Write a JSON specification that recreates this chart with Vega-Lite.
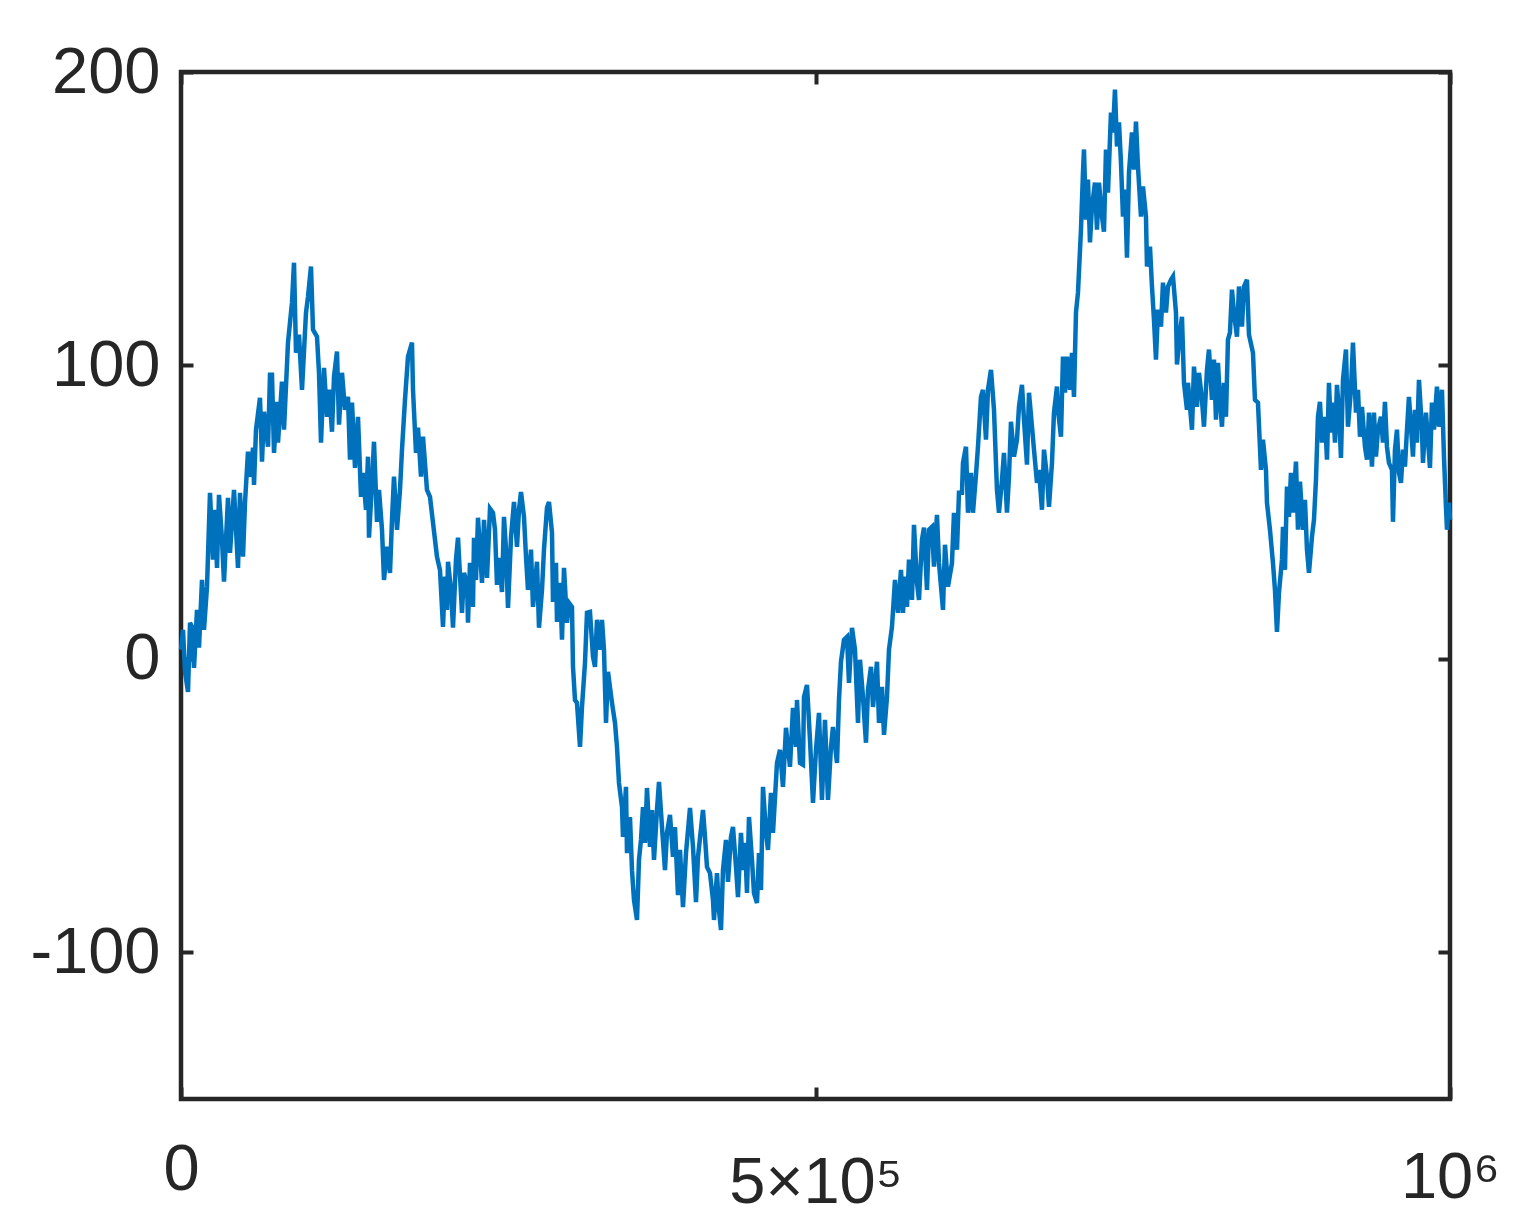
{
  "$schema": "https://vega.github.io/schema/vega-lite/v6.json",
  "width": 1269,
  "height": 1027,
  "autosize": "none",
  "padding": {"left": 181, "top": 72, "right": 76, "bottom": 116},
  "background": "white",
  "config": {
    "view": {"stroke": "#262626", "strokeWidth": 4.5},
    "axis": {"grid": false, "domain": false, "tickColor": "#262626", "tickWidth": 4, "tickSize": -12, "labelFont": "Liberation Sans", "labelFontSize": 65, "labelColor": "#262626", "labelFlush": false, "labelOverlap": false}
  },
  "data": {"values": [
{"x":0,"y":3.1},{"x":1576,"y":9.9},{"x":3152,"y":-4.4},{"x":5516,"y":-11.3},{"x":7092,"y":12.3},{"x":8668,"y":10.9},{"x":10244,"y":-3.1},{"x":12608,"y":16.7},{"x":14184,"y":3.8},{"x":16548,"y":26.9},{"x":18124,"y":9.9},{"x":20488,"y":24.6},{"x":22852,"y":56.6},{"x":25216,"y":33.8},{"x":26792,"y":50.8},{"x":28368,"y":31.0},{"x":29944,"y":55.9},{"x":32308,"y":40.6},{"x":33884,"y":26.3},{"x":37036,"y":54.9},{"x":38612,"y":36.1},{"x":41764,"y":57.6},{"x":44916,"y":31.0},{"x":46492,"y":56.6},{"x":48856,"y":34.8},{"x":50432,"y":53.2},{"x":52796,"y":70.6},{"x":55160,"y":62.1},{"x":56736,"y":72.0},{"x":57524,"y":59.3},{"x":59100,"y":78.1},{"x":62252,"y":89.0},{"x":63828,"y":67.2},{"x":65404,"y":84.2},{"x":68556,"y":72.3},{"x":70132,"y":96.8},{"x":71708,"y":96.8},{"x":73284,"y":70.2},{"x":75648,"y":87.6},{"x":76436,"y":73.7},{"x":79588,"y":94.5},{"x":81164,"y":78.1},{"x":84316,"y":107.8},{"x":85892,"y":114.6},{"x":87468,"y":121.4},{"x":89044,"y":135.0},{"x":90620,"y":104.3},{"x":92984,"y":110.5},{"x":95348,"y":91.7},{"x":98500,"y":118.0},{"x":100076,"y":123.4},{"x":102440,"y":133.7},{"x":104016,"y":112.2},{"x":107168,"y":109.8},{"x":108744,"y":97.5},{"x":110320,"y":73.7},{"x":112684,"y":99.2},{"x":115048,"y":82.5},{"x":116624,"y":91.7},{"x":118988,"y":77.4},{"x":120564,"y":96.2},{"x":122928,"y":104.7},{"x":124504,"y":79.8},{"x":126868,"y":97.5},{"x":129232,"y":84.9},{"x":131596,"y":89.3},{"x":133172,"y":67.9},{"x":134748,"y":87.3},{"x":137112,"y":65.1},{"x":139476,"y":82.5},{"x":141840,"y":55.2},{"x":143416,"y":63.4},{"x":145780,"y":50.8},{"x":147356,"y":68.9},{"x":148144,"y":41.3},{"x":150508,"y":60.0},{"x":152084,"y":74.0},{"x":154448,"y":46.7},{"x":156024,"y":57.6},{"x":158388,"y":44.0},{"x":159964,"y":26.9},{"x":162328,"y":38.2},{"x":164692,"y":29.3},{"x":166268,"y":47.4},{"x":167844,"y":62.1},{"x":170208,"y":44.0},{"x":172572,"y":57.6},{"x":174148,"y":71.3},{"x":176512,"y":88.3},{"x":178876,"y":103.0},{"x":182028,"y":107.8},{"x":182816,"y":91.7},{"x":185180,"y":70.2},{"x":186756,"y":78.8},{"x":189120,"y":62.1},{"x":190696,"y":75.7},{"x":193848,"y":57.6},{"x":196212,"y":55.2},{"x":198576,"y":46.4},{"x":201728,"y":34.8},{"x":204092,"y":30.3},{"x":206456,"y":10.9},{"x":208032,"y":28.0},{"x":209608,"y":16.7},{"x":210396,"y":33.1},{"x":212760,"y":23.5},{"x":214336,"y":10.6},{"x":216700,"y":33.8},{"x":218276,"y":41.3},{"x":221428,"y":15.7},{"x":223004,"y":29.3},{"x":225368,"y":25.9},{"x":226156,"y":12.3},{"x":227732,"y":32.7},{"x":230096,"y":17.7},{"x":230884,"y":41.3},{"x":232460,"y":26.9},{"x":234036,"y":48.1},{"x":237188,"y":25.9},{"x":238764,"y":47.4},{"x":241128,"y":27.6},{"x":243492,"y":51.2},{"x":245856,"y":49.8},{"x":247432,"y":44.0},{"x":249008,"y":25.2},{"x":250584,"y":34.4},{"x":252948,"y":22.8},{"x":254524,"y":48.4},{"x":256100,"y":37.2},{"x":257676,"y":17.4},{"x":260040,"y":41.3},{"x":262404,"y":53.5},{"x":264768,"y":38.2},{"x":266344,"y":50.8},{"x":267920,"y":56.9},{"x":270284,"y":48.4},{"x":271860,"y":34.8},{"x":273436,"y":23.5},{"x":275800,"y":37.2},{"x":277376,"y":17.7},{"x":280528,"y":33.1},{"x":282104,"y":10.6},{"x":284468,"y":23.5},{"x":286044,"y":37.2},{"x":288408,"y":51.5},{"x":289984,"y":53.5},{"x":292348,"y":43.0},{"x":293136,"y":19.4},{"x":295500,"y":32.7},{"x":296288,"y":12.6},{"x":298652,"y":25.9},{"x":300228,"y":6.5},{"x":301804,"y":31.0},{"x":304168,"y":12.3},{"x":305744,"y":19.1},{"x":308108,"y":17.7},{"x":308896,"y":-2.7},{"x":310472,"y":-14.0},{"x":312048,"y":-15.0},{"x":314412,"y":-30.0},{"x":315988,"y":-16.4},{"x":318352,"y":-1.4},{"x":319928,"y":15.7},{"x":322292,"y":16.0},{"x":324656,"y":0.7},{"x":326232,"y":-2.7},{"x":327808,"y":13.3},{"x":330172,"y":3.1},{"x":331748,"y":13.3},{"x":333324,"y":3.1},{"x":334900,"y":-21.8},{"x":336476,"y":-4.4},{"x":339628,"y":-15.0},{"x":341992,"y":-21.8},{"x":343568,"y":-30.0},{"x":345144,"y":-42.3},{"x":347508,"y":-50.5},{"x":348296,"y":-60.7},{"x":350660,"y":-43.6},{"x":351448,"y":-66.2},{"x":353812,"y":-53.9},{"x":355388,"y":-72.0},{"x":356964,"y":-82.2},{"x":359328,"y":-89.0},{"x":360904,"y":-68.5},{"x":362480,"y":-61.7},{"x":364056,"y":-50.5},{"x":365632,"y":-62.7},{"x":367208,"y":-44.0},{"x":369572,"y":-64.1},{"x":371148,"y":-51.5},{"x":372724,"y":-68.5},{"x":375088,"y":-51.5},{"x":376664,"y":-41.9},{"x":379028,"y":-57.3},{"x":381392,"y":-72.0},{"x":382968,"y":-59.3},{"x":385332,"y":-53.2},{"x":387696,"y":-67.5},{"x":389272,"y":-57.3},{"x":391636,"y":-80.5},{"x":393212,"y":-65.1},{"x":395576,"y":-84.6},{"x":397940,"y":-66.2},{"x":401092,"y":-50.8},{"x":403456,"y":-64.1},{"x":405820,"y":-82.9},{"x":407396,"y":-67.5},{"x":411336,"y":-51.5},{"x":412912,"y":-60.7},{"x":414488,"y":-70.9},{"x":416852,"y":-73.0},{"x":419216,"y":-82.2},{"x":420004,"y":-89.0},{"x":422368,"y":-73.0},{"x":423944,"y":-85.6},{"x":425520,"y":-92.4},{"x":427096,"y":-72.0},{"x":429460,"y":-61.7},{"x":431036,"y":-76.0},{"x":433400,"y":-60.7},{"x":434976,"y":-57.3},{"x":437340,"y":-70.9},{"x":438916,"y":-81.2},{"x":441280,"y":-59.3},{"x":442856,"y":-72.0},{"x":444432,"y":-62.7},{"x":446008,"y":-79.8},{"x":447584,"y":-53.9},{"x":449948,"y":-68.5},{"x":451524,"y":-79.8},{"x":453888,"y":-83.2},{"x":455464,"y":-66.2},{"x":457040,"y":-78.8},{"x":458616,"y":-43.6},{"x":460980,"y":-59.3},{"x":462556,"y":-65.1},{"x":464920,"y":-45.7},{"x":466496,"y":-59.3},{"x":469648,"y":-35.5},{"x":472012,"y":-31.0},{"x":474376,"y":-43.6},{"x":476740,"y":-23.5},{"x":479892,"y":-36.8},{"x":482256,"y":-16.7},{"x":484620,"y":-30.0},{"x":485408,"y":-14.0},{"x":487772,"y":-35.5},{"x":490136,"y":-36.1},{"x":490924,"y":-13.0},{"x":493288,"y":-8.9},{"x":495652,"y":-27.6},{"x":498016,"y":-49.1},{"x":500380,"y":-31.0},{"x":502744,"y":-18.4},{"x":505108,"y":-48.1},{"x":507472,"y":-20.8},{"x":509836,"y":-48.1},{"x":512200,"y":-30.0},{"x":513776,"y":-23.2},{"x":516928,"y":-35.5},{"x":518504,"y":-14.0},{"x":520080,"y":-1.0},{"x":522444,"y":6.5},{"x":524808,"y":7.5},{"x":526384,"y":-8.2},{"x":528748,"y":10.6},{"x":531112,"y":3.1},{"x":533476,"y":-21.8},{"x":535052,"y":-0.3},{"x":537416,"y":-13.0},{"x":539780,"y":-28.6},{"x":541356,"y":-10.6},{"x":543720,"y":-2.7},{"x":545296,"y":-16.4},{"x":548448,"y":-1.0},{"x":550024,"y":-21.8},{"x":552388,"y":-9.5},{"x":553964,"y":-25.9},{"x":556328,"y":-13.0},{"x":557904,"y":3.1},{"x":560268,"y":10.9},{"x":562632,"y":26.9},{"x":564996,"y":15.7},{"x":567360,"y":30.3},{"x":568936,"y":15.7},{"x":570512,"y":28.0},{"x":572088,"y":17.7},{"x":573664,"y":33.8},{"x":576028,"y":20.1},{"x":577604,"y":45.7},{"x":579968,"y":25.9},{"x":581544,"y":20.1},{"x":583908,"y":40.6},{"x":585484,"y":44.7},{"x":587848,"y":23.5},{"x":589424,"y":44.0},{"x":591788,"y":45.0},{"x":593364,"y":31.4},{"x":595728,"y":49.1},{"x":597304,"y":32.7},{"x":600456,"y":16.7},{"x":602032,"y":38.9},{"x":604396,"y":24.6},{"x":607548,"y":32.7},{"x":609124,"y":49.8},{"x":611488,"y":37.2},{"x":613064,"y":56.6},{"x":615428,"y":56.6},{"x":616216,"y":66.8},{"x":618580,"y":72.3},{"x":620156,"y":49.8},{"x":622520,"y":63.4},{"x":624096,"y":49.8},{"x":626460,"y":62.7},{"x":628036,"y":72.3},{"x":630400,"y":89.3},{"x":631976,"y":91.7},{"x":634340,"y":74.7},{"x":635916,"y":91.7},{"x":638280,"y":98.5},{"x":640644,"y":84.9},{"x":643008,"y":57.6},{"x":644584,"y":49.8},{"x":646948,"y":61.0},{"x":648524,"y":70.2},{"x":650888,"y":49.8},{"x":652464,"y":62.1},{"x":654040,"y":80.8},{"x":656404,"y":68.9},{"x":658768,"y":74.7},{"x":660344,"y":85.9},{"x":662708,"y":93.4},{"x":664284,"y":81.5},{"x":666648,"y":66.2},{"x":668224,"y":90.7},{"x":670588,"y":79.1},{"x":672164,"y":71.3},{"x":674528,"y":60.0},{"x":676104,"y":64.4},{"x":678468,"y":50.8},{"x":680044,"y":71.3},{"x":682408,"y":62.1},{"x":683984,"y":51.8},{"x":686348,"y":66.8},{"x":687924,"y":83.9},{"x":690288,"y":92.8},{"x":691076,"y":84.9},{"x":693440,"y":75.7},{"x":695016,"y":103.0},{"x":696592,"y":90.7},{"x":698168,"y":103.0},{"x":700532,"y":91.7},{"x":702108,"y":104.3},{"x":703684,"y":89.3},{"x":705260,"y":118.0},{"x":706836,"y":124.8},{"x":709200,"y":146.3},{"x":710776,"y":165.7},{"x":711564,"y":173.6},{"x":713140,"y":149.7},{"x":714716,"y":163.3},{"x":716292,"y":141.9},{"x":717868,"y":154.1},{"x":720232,"y":162.3},{"x":721808,"y":146.3},{"x":723384,"y":162.3},{"x":725748,"y":150.7},{"x":727324,"y":145.6},{"x":728900,"y":173.6},{"x":730476,"y":158.9},{"x":732840,"y":186.2},{"x":734416,"y":179.4},{"x":735992,"y":194.0},{"x":737568,"y":174.6},{"x":739144,"y":182.8},{"x":740720,"y":169.1},{"x":742296,"y":150.7},{"x":743872,"y":159.9},{"x":745448,"y":136.7},{"x":747024,"y":165.7},{"x":749388,"y":179.4},{"x":750964,"y":166.7},{"x":752540,"y":183.1},{"x":754116,"y":167.8},{"x":756480,"y":150.7},{"x":758056,"y":161.0},{"x":760420,"y":150.7},{"x":761208,"y":133.7},{"x":763572,"y":140.5},{"x":765148,"y":126.9},{"x":766724,"y":115.6},{"x":768300,"y":102.0},{"x":769876,"y":119.0},{"x":772240,"y":113.2},{"x":773816,"y":128.2},{"x":776180,"y":118.0},{"x":777756,"y":126.9},{"x":780120,"y":129.2},{"x":781696,"y":130.3},{"x":784060,"y":118.0},{"x":784848,"y":100.3},{"x":787212,"y":111.2},{"x":788788,"y":116.6},{"x":790364,"y":94.1},{"x":792728,"y":84.9},{"x":793516,"y":94.1},{"x":796668,"y":78.1},{"x":798244,"y":99.6},{"x":800608,"y":85.9},{"x":802184,"y":97.5},{"x":804548,"y":88.3},{"x":806124,"y":79.1},{"x":808488,"y":98.5},{"x":810064,"y":105.4},{"x":812428,"y":88.3},{"x":814004,"y":102.0},{"x":815580,"y":81.5},{"x":817156,"y":100.9},{"x":818732,"y":88.3},{"x":820308,"y":79.1},{"x":821884,"y":94.1},{"x":823460,"y":82.5},{"x":825036,"y":108.8},{"x":826612,"y":111.2},{"x":828188,"y":125.8},{"x":829764,"y":118.0},{"x":832128,"y":109.8},{"x":833704,"y":126.9},{"x":836068,"y":113.2},{"x":837644,"y":126.9},{"x":840008,"y":129.2},{"x":841584,"y":110.5},{"x":844736,"y":104.3},{"x":846312,"y":88.3},{"x":848676,"y":87.3},{"x":851040,"y":64.4},{"x":852616,"y":74.7},{"x":854980,"y":64.4},{"x":855768,"y":53.2},{"x":858132,"y":44.0},{"x":860496,"y":32.7},{"x":862072,"y":23.5},{"x":863648,"y":9.2},{"x":865224,"y":22.5},{"x":867588,"y":33.8},{"x":868376,"y":45.0},{"x":869952,"y":30.3},{"x":871528,"y":58.7},{"x":873104,"y":48.4},{"x":874680,"y":63.4},{"x":876256,"y":49.8},{"x":878620,"y":67.2},{"x":880196,"y":44.0},{"x":881772,"y":60.4},{"x":884136,"y":44.0},{"x":885712,"y":54.2},{"x":887288,"y":37.2},{"x":888864,"y":29.3},{"x":891228,"y":41.6},{"x":892804,"y":47.4},{"x":894380,"y":61.0},{"x":895956,"y":82.5},{"x":897532,"y":87.6},{"x":899108,"y":73.7},{"x":901472,"y":82.5},{"x":903048,"y":67.9},{"x":904624,"y":94.1},{"x":906200,"y":77.1},{"x":907776,"y":87.3},{"x":909352,"y":73.7},{"x":910928,"y":93.4},{"x":912504,"y":83.9},{"x":914080,"y":68.5},{"x":915656,"y":95.1},{"x":918020,"y":105.4},{"x":919596,"y":79.1},{"x":921960,"y":91.7},{"x":923536,"y":107.8},{"x":925900,"y":83.9},{"x":927476,"y":91.7},{"x":929052,"y":75.7},{"x":930628,"y":85.9},{"x":932992,"y":72.3},{"x":934568,"y":67.9},{"x":936144,"y":83.9},{"x":938508,"y":65.5},{"x":940084,"y":83.9},{"x":941660,"y":68.9},{"x":943236,"y":78.1},{"x":945600,"y":82.5},{"x":947176,"y":73.7},{"x":948752,"y":87.6},{"x":950328,"y":72.3},{"x":951904,"y":66.8},{"x":954268,"y":64.4},{"x":955056,"y":46.7},{"x":956632,"y":71.3},{"x":958208,"y":78.1},{"x":959784,"y":63.4},{"x":961360,"y":60.0},{"x":962936,"y":71.3},{"x":964512,"y":65.5},{"x":966088,"y":78.1},{"x":967664,"y":89.3},{"x":969240,"y":79.1},{"x":970816,"y":68.9},{"x":972392,"y":84.9},{"x":973968,"y":73.7},{"x":975544,"y":95.1},{"x":977908,"y":78.1},{"x":978696,"y":66.8},{"x":981060,"y":83.9},{"x":982636,"y":74.7},{"x":984212,"y":65.1},{"x":985788,"y":87.3},{"x":987364,"y":78.1},{"x":989728,"y":92.8},{"x":991304,"y":79.1},{"x":993668,"y":91.7},{"x":995244,"y":68.9},{"x":996820,"y":51.8},{"x":997608,"y":44.0},{"x":999184,"y":53.2},{"x":1000000,"y":47.4}
  ]},
  "layer": [
    {
      "mark": {"type": "line", "color": "#0072BD", "strokeWidth": 4.5, "strokeJoin": "miter"},
      "encoding": {
        "x": {"field": "x", "type": "quantitative", "scale": {"domain": [0, 1000000], "nice": false, "zero": false},
              "axis": {"orient": "bottom", "title": null, "values": [0, 500000, 1000000],
                       "labelExpr": "datum.value == 0 ? '0' : datum.value == 500000 ? '5×10⁵' : '10⁶'",
                       "labelPadding": {"condition": [{"test": "datum.value == 0", "value": 51}, {"test": "datum.value == 500000", "value": 64}], "value": 59},
                       "labelBaseline": "top"}},
        "y": {"field": "y", "type": "quantitative", "scale": {"domain": [-150, 200], "nice": false, "zero": false},
              "axis": {"orient": "left", "title": null, "values": [-100, 0, 100, 200], "labelPadding": 33,
                       "labelExpr": "datum.value < 0 ? '-' + format(-datum.value, 'd') : format(datum.value, 'd')"}}
      }
    },
    {
      "mark": {"type": "point", "opacity": 0},
      "encoding": {
        "x": {"field": "x", "type": "quantitative", "axis": {"orient": "top", "title": null, "labels": false, "values": [0, 500000, 1000000]}},
        "y": {"field": "y", "type": "quantitative", "axis": {"orient": "right", "title": null, "labels": false, "values": [-100, 0, 100, 200]}}
      }
    }
  ],
  "resolve": {"axis": {"x": "independent", "y": "independent"}}
}
